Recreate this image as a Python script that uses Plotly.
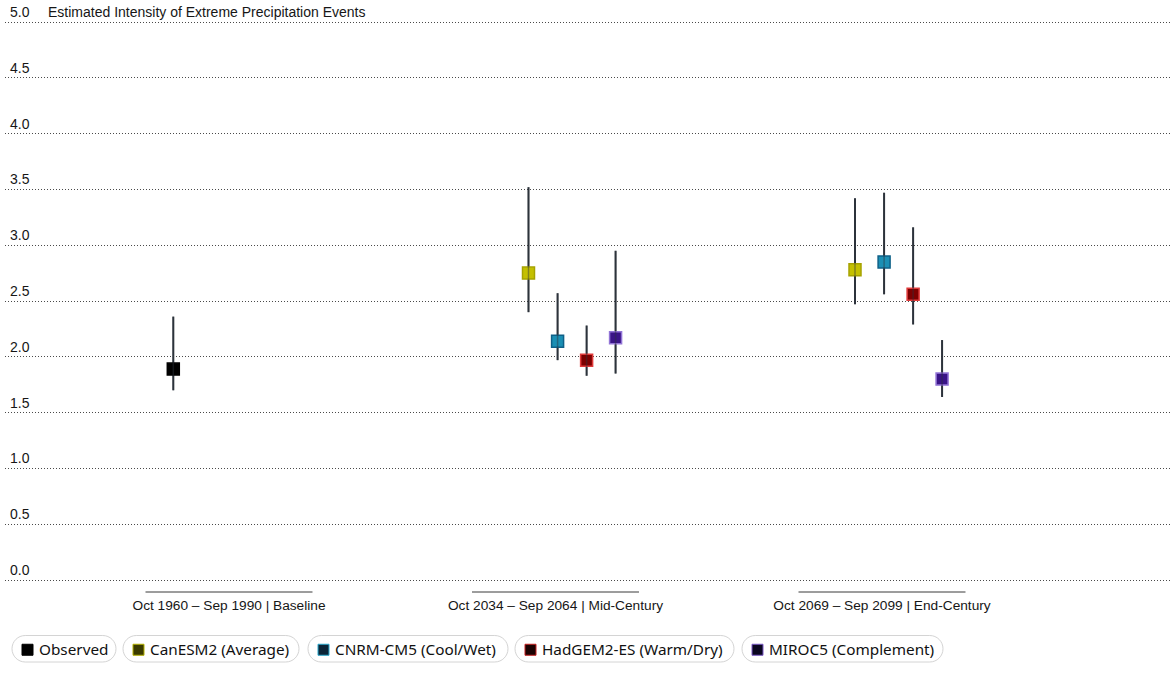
import plotly.graph_objects as go

# ---------------- data ----------------
categories = [
    "Oct 1960 \u2013 Sep 1990 | Baseline",
    "Oct 2034 \u2013 Sep 2064 | Mid-Century",
    "Oct 2069 \u2013 Sep 2099 | End-Century",
]
series_names = [
    "Observed",
    "CanESM2 (Average)",
    "CNRM-CM5 (Cool/Wet)",
    "HadGEM2-ES (Warm/Dry)",
    "MIROC5 (Complement)",
]
observed_mean = [1.89, None, None]
observed_low = [1.70, None, None]
observed_high = [2.36, None, None]

canesm2_mean = [None, 2.75, 2.78]
canesm2_low = [None, 2.40, 2.47]
canesm2_high = [None, 3.52, 3.42]

cnrm_mean = [None, 2.14, 2.85]
cnrm_low = [None, 1.97, 2.56]
cnrm_high = [None, 2.57, 3.47]

hadgem_mean = [None, 1.97, 2.56]
hadgem_low = [None, 1.83, 2.29]
hadgem_high = [None, 2.28, 3.16]

miroc_mean = [None, 2.17, 1.80]
miroc_low = [None, 1.85, 1.64]
miroc_high = [None, 2.95, 2.15]

y_ticks = [0.0, 0.5, 1.0, 1.5, 2.0, 2.5, 3.0, 3.5, 4.0, 4.5, 5.0]
chart_title = "Estimated Intensity of Extreme Precipitation Events"

# ---------------- styles ----------------
W, H = 1175, 690
ML, MR, MT, MB = 5, 3, 1, 108
PW = W - ML - MR
PH = H - MT - MB
PXU = 111.6          # pixels per y unit
Y_TOP_PX = 22        # pixel row of y = 5.0

means = [observed_mean, canesm2_mean, cnrm_mean, hadgem_mean, miroc_mean]
lows = [observed_low, canesm2_low, cnrm_low, hadgem_low, miroc_low]
highs = [observed_high, canesm2_high, cnrm_high, hadgem_high, miroc_high]
offsets = [-0.1706, -0.0827, 0.0064, 0.0953, 0.1840]
fills = ["#000000", "#c4c000", "#1b8fb4", "#7d0000", "#3a1487"]
borders = ["#000000", "#a6a200", "#0f6088", "#e03a3a", "#9274d6"]
sw_fills = ["#000000", "#3b3b00", "#0b2538", "#1c0202", "#0a0620"]
sw_borders = ["#000000", "#b4b000", "#2aa8cc", "#c42020", "#7a58c4"]
pill_x = [(12, 116), (123, 299), (308, 508), (515, 734), (742, 943)]
err_color = "#2d333b"
font_main = "Liberation Sans, Arial, sans-serif"
font_legend = "Noto Sans, sans-serif"


def px2x(p):
    return (p - ML) / PW


def px2y(p):
    return (H - MB - p) / PH


fig = go.Figure()
for i, name in enumerate(series_names):
    xs, ys, ep, em = [], [], [], []
    for c, v in enumerate(means[i]):
        if v is None:
            continue
        xs.append(c + offsets[i])
        ys.append(v)
        ep.append(highs[i][c] - v)
        em.append(v - lows[i][c])
    fig.add_trace(go.Scatter(
        x=xs, y=ys, mode="markers", name=name, showlegend=False,
        marker=dict(symbol="square", size=12, color=fills[i],
                    line=dict(color=borders[i], width=1.5)),
        error_y=dict(type="data", array=ep, arrayminus=em, symmetric=False,
                     color=err_color, thickness=2, width=0),
        hoverinfo="x+y+name",
    ))
    # error bar overlay (line visible through the marker)
    fig.add_trace(go.Scatter(
        x=xs, y=ys, mode="markers", showlegend=False, hoverinfo="skip",
        marker=dict(size=1, color="rgba(0,0,0,0)"),
        error_y=dict(type="data", array=ep, arrayminus=em, symmetric=False,
                     color="rgba(45,51,59,0.45)", thickness=1.5, width=0),
    ))

shapes = []
# category underline segments
for c in range(len(categories)):
    shapes.append(dict(type="line", xref="x", yref="paper",
                       x0=c - 0.2557, x1=c + 0.2557,
                       y0=px2y(592), y1=px2y(592),
                       line=dict(color="#3a3a3a", width=1)))

# custom pill legend
k = 0.5523
annotations = []
yt, yb = 635.5, 662
cy = (yt + yb) / 2
r = (yb - yt) / 2
for i, name in enumerate(series_names):
    x0, x1 = pill_x[i]
    pts = [
        ("M", [(x0 + r, yt)]),
        ("L", [(x1 - r, yt)]),
        ("C", [(x1 - r + k * r, yt), (x1, cy - k * r), (x1, cy)]),
        ("C", [(x1, cy + k * r), (x1 - r + k * r, yb), (x1 - r, yb)]),
        ("L", [(x0 + r, yb)]),
        ("C", [(x0 + r - k * r, yb), (x0, cy + k * r), (x0, cy)]),
        ("C", [(x0, cy - k * r), (x0 + r - k * r, yt), (x0 + r, yt)]),
    ]
    path = ""
    for cmd, ps in pts:
        path += cmd + " " + " ".join(f"{px2x(a):.6f},{px2y(b):.6f}" for a, b in ps) + " "
    path += "Z"
    shapes.append(dict(type="path", xref="paper", yref="paper", path=path,
                       line=dict(color="#d4d4d4", width=1), fillcolor="white",
                       layer="below"))
    sx0 = x0 + 10
    shapes.append(dict(type="rect", xref="paper", yref="paper",
                       x0=px2x(sx0), x1=px2x(sx0 + 11),
                       y0=px2y(cy - 5.5 + 1), y1=px2y(cy + 5.5 + 1),
                       fillcolor=sw_fills[i], line=dict(color=sw_borders[i], width=1)))
    annotations.append(dict(xref="paper", yref="paper", x=px2x(sx0 + 15),
                            y=px2y(cy), xanchor="left", yanchor="middle",
                            text=name, showarrow=False,
                            font=dict(family=font_legend, size=15.3, color="#111111")))

annotations.append(dict(xref="paper", yref="paper", x=px2x(46), y=px2y(12.5),
                        xanchor="left", yanchor="middle", text=chart_title,
                        showarrow=False,
                        font=dict(family=font_main, size=14, color="#161616")))

y_bottom_px = H - MB
fig.update_layout(
    width=W, height=H, autosize=False,
    margin=dict(l=ML, r=MR, t=MT, b=MB, pad=0),
    paper_bgcolor="white", plot_bgcolor="white",
    shapes=shapes, annotations=annotations,
    font=dict(family=font_main, size=13, color="#161616"),
    showlegend=False,
)
fig.update_xaxes(
    range=[(ML - 229) / 326.5, (W - MR - 229) / 326.5],
    tickvals=list(range(len(categories))), ticktext=categories,
    showgrid=False, zeroline=False, showline=False, ticks="",
    ticklabelstandoff=13,
    tickfont=dict(family=font_main, size=13.7, color="#161616"),
)
fig.update_yaxes(
    range=[-(y_bottom_px - 580) / PXU, 5 + (Y_TOP_PX - MT) / PXU],
    tickvals=y_ticks, tickformat=".1f",
    ticklabelposition="inside", ticklabelshift=-10, ticklabelstandoff=2,
    showgrid=True, gridcolor="#4a4a4a", griddash="1px,2px", gridwidth=1,
    zeroline=False, showline=False, ticks="",
    tickfont=dict(family=font_main, size=14, color="#161616"),
)

fig.write_html(
    "out.html",
    config={"displayModeBar": False},
    post_script="document.body.style.margin='0';document.body.style.overflow='hidden';",
)
